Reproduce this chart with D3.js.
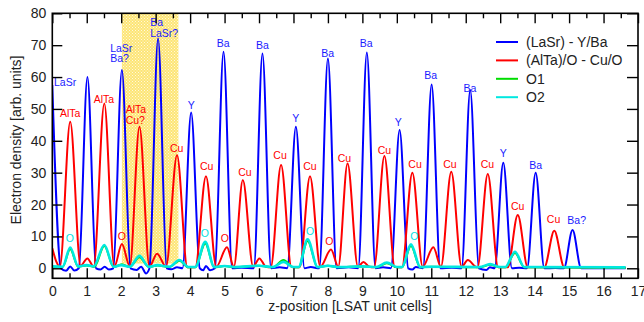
<!DOCTYPE html>
<html>
<head>
<meta charset="utf-8">
<script src="https://cdn.jsdelivr.net/npm/d3@7"></script>
<style>
  body { margin: 0; background: #fff; }
  svg { display: block; font-family: "Liberation Sans", Arial, sans-serif; }
  .tick text { font-size: 14px; fill: #222; }
  .tick line { stroke: #000; stroke-width: 1.4; }
</style>
</head>
<body>
<svg id="chart"></svg>
<script>
// series knots [z, density]
const laSrYBa = [
  [0.00, 57.5], [0.25, 0], [0.40, -0.8], [0.52, 0.6], [0.64, -0.7], [0.77, 0],
  [1.02, 60.0], [1.27, 0], [1.40, -0.4], [1.52, 0.5], [1.64, -0.4], [1.77, 0],
  [2.02, 62.2], [2.27, 0], [2.45, -0.5], [2.58, 0.5], [2.72, -1.6], [2.82, 0],
  [3.07, 72.1], [3.32, 0], [3.45, -0.3], [3.62, 0.3], [3.78, 0],
  [4.03, 48.9], [4.28, 0], [4.38, -0.6], [4.46, 0.7], [4.58, -0.6], [4.72, 0],
  [4.97, 67.9], [5.22, 0], [5.50, 0.2], [5.85, 0],
  [6.10, 67.4], [6.35, 0], [6.60, 0.3], [6.82, 0],
  [7.07, 44.4], [7.32, 0], [7.50, 0.4], [7.75, 0],
  [8.00, 65.8], [8.25, 0], [8.60, 0.3], [8.88, 0],
  [9.13, 67.7], [9.38, 0], [9.60, 0.3], [9.83, 0],
  [10.08, 43.4], [10.33, 0], [10.45, -0.4], [10.55, 0.4], [10.76, 0],
  [11.01, 57.7], [11.26, 0], [11.60, 0.2], [11.88, 0],
  [12.13, 55.9], [12.38, 0], [12.60, -0.5], [12.70, 0.3], [12.84, 0],
  [13.09, 33.1], [13.34, 0], [13.55, 0.2], [13.78, 0],
  [14.03, 30.0], [14.28, 0], [14.60, 0.1], [14.85, 0],
  [15.10, 12.0], [15.35, 0], [16.00, 0], [16.64, 0]
];

const alTaCuO = [
  [0.00, 6.3], [0.12, 2.0], [0.22, 0.5], [0.52, 46.0], [0.82, 0.8],
  [1.02, 3.1], [1.20, 0.5], [1.51, 51.7], [1.80, 0.5],
  [2.02, 7.6], [2.25, 0.6], [2.53, 44.4], [2.82, 0.5],
  [3.04, 4.6], [3.30, 0.5], [3.62, 35.5], [3.92, 0.3],
  [4.15, 0.3], [4.46, 28.9], [4.76, 0.5],
  [5.07, 6.6], [5.27, 0.5], [5.53, 27.7], [5.83, 0.5],
  [6.01, 3.1], [6.20, 0.5], [6.34, 0.3], [6.64, 32.4], [6.94, 0.4],
  [7.18, 0.3], [7.48, 28.9], [7.78, 0.5],
  [8.09, 5.9], [8.30, 0.5], [8.57, 32.9], [8.87, 0.5],
  [9.03, 2.0], [9.20, 0.5], [9.34, 0.3], [9.64, 35.2], [9.94, 0.4],
  [10.15, 0.3], [10.45, 30.0], [10.75, 0.5],
  [11.06, 6.6], [11.28, 0.5], [11.58, 30.3], [11.88, 0.5],
  [12.06, 2.6], [12.30, 0.4], [12.34, 0.3], [12.64, 29.6], [12.94, 0.3],
  [13.22, 0.3], [13.51, 16.7], [13.80, 0.3],
  [14.28, 0.3], [14.57, 11.8], [14.86, 0.3], [15.50, 0.2], [16.64, 0.2]
];

const o1 = [
  [0.00, 0.5], [0.30, 0.4], [0.52, 6.0], [0.75, 0.5], [1.00, 0.9], [1.22, 0.5],
  [1.51, 7.0], [1.78, 0.4], [2.02, 1.3], [2.25, 0.4], [2.53, 3.5], [2.80, 0.4],
  [3.05, 0.9], [3.40, 0.4], [3.69, 2.4], [3.95, 0.3], [4.15, 0.3], [4.44, 7.8],
  [4.70, 0.3], [5.00, 0.7], [5.30, 0.3], [6.00, 0.8], [6.40, 0.3], [6.71, 2.6],
  [7.00, 0.3], [7.15, 0.3], [7.41, 8.6], [7.70, 0.3], [8.00, 0.8], [8.30, 0.3],
  [9.00, 0.6], [9.40, 0.3], [9.71, 1.6], [10.00, 0.3], [10.15, 0.3], [10.41, 7.0],
  [10.68, 0.3], [11.00, 0.5], [12.40, 0.3], [12.71, 1.1], [13.00, 0.3], [13.15, 0.3],
  [13.43, 4.8], [13.70, 0.3], [16.64, 0.2]
];

const o2 = [
  [0.00, 0.6], [0.30, 0.5], [0.52, 6.5], [0.75, 0.6], [1.00, 1.0], [1.20, 0.6],
  [1.51, 7.3], [1.78, 0.5], [2.00, 1.0], [2.25, 0.5], [2.53, 3.9], [2.80, 0.5],
  [3.05, 1.0], [3.40, 0.5], [3.69, 2.6], [3.95, 0.4], [4.15, 0.4], [4.44, 8.3],
  [4.70, 0.4], [5.00, 0.7], [5.30, 0.4], [6.00, 0.8], [6.40, 0.4], [6.71, 2.0],
  [7.00, 0.4], [7.15, 0.4], [7.41, 9.1], [7.70, 0.4], [8.00, 0.8], [8.30, 0.4],
  [9.00, 0.6], [9.40, 0.4], [9.71, 1.8], [10.00, 0.4], [10.15, 0.4], [10.41, 7.5],
  [10.68, 0.4], [11.00, 0.5], [12.40, 0.4], [12.71, 1.3], [13.00, 0.4], [13.15, 0.4],
  [13.43, 5.2], [13.70, 0.4], [16.64, 0.3]
];

const seriesNames = ['(LaSr) - Y/Ba', '(AlTa)/O - Cu/O', 'O1', 'O2'];
const seriesColors = ['#0000ff', '#ff0000', '#00dd00', '#00e8e0'];
const seriesWidths = [2, 2, 2, 2.6];
const seriesData = [laSrYBa, alTaCuO, o1, o2];

// peak annotations: [text, z, density at baseline, anchor]
const blueLabels = [
  ['LaSr', 0.37, 57.3, 'middle'],
  ['LaSr\nBa?', 1.68, 67.9, 'start'],
  ['Ba\nLaSr?', 2.84, 75.9, 'start'],
  ['Y', 4.03, 50.1, 'middle'],
  ['Ba', 4.96, 69.4, 'middle'],
  ['Ba', 6.10, 68.9, 'middle'],
  ['Y', 7.07, 45.9, 'middle'],
  ['Ba', 7.99, 66.3, 'middle'],
  ['Ba', 9.11, 69.4, 'middle'],
  ['Y', 10.04, 44.5, 'middle'],
  ['Ba', 10.98, 59.4, 'middle'],
  ['Ba', 12.12, 55.3, 'middle'],
  ['Y', 13.09, 34.9, 'middle'],
  ['Ba', 14.03, 31.0, 'middle'],
  ['Ba?', 15.22, 14.0, 'middle']
];
const redLabels = [
  ['AlTa', 0.52, 47.5, 'middle'],
  ['AlTa', 1.50, 51.8, 'middle'],
  ['AlTa\nCu?', 2.13, 48.7, 'start'],
  ['Cu', 3.61, 36.5, 'middle'],
  ['Cu', 4.48, 30.9, 'middle'],
  ['Cu', 5.59, 29.1, 'middle'],
  ['Cu', 6.61, 34.4, 'middle'],
  ['Cu', 7.48, 30.7, 'middle'],
  ['Cu', 8.48, 33.3, 'middle'],
  ['Cu', 9.64, 35.9, 'middle'],
  ['Cu', 10.53, 31.5, 'middle'],
  ['Cu', 11.54, 31.5, 'middle'],
  ['Cu', 12.63, 31.5, 'middle'],
  ['Cu', 13.51, 18.4, 'middle'],
  ['Cu', 14.55, 14.2, 'middle'],
  ['O', 2.02, 9.0, 'middle'],
  ['O', 5.01, 8.2, 'middle'],
  ['O', 8.04, 7.2, 'middle']
];
const cyanLabels = [
  ['O', 0.51, 8.4, 'middle'],
  ['O', 4.43, 9.8, 'middle'],
  ['O', 7.48, 10.5, 'middle'],
  ['O', 10.51, 9.0, 'middle']
];

// highlighted region [z0, z1]
const band = [2.02, 3.66];

const xTicks = d3.range(0, 18, 1);
const xMinorTicks = d3.range(0.5, 17, 1);
const yTicks = d3.range(0, 90, 10);

// Set up dimensions
const width = 644;
const height = 322;
const plot = { left: 52.3, right: 638, top: 13.3, bottom: 278.3 };

const svg = d3.select('#chart')
  .attr('width', width)
  .attr('height', height);

// Create scales
const xScale = d3.scaleLinear().domain([0, 17]).range([plot.left, plot.right]);
const yScale = d3.scaleLinear().domain([-3.14, 80]).range([plot.bottom, plot.top]);

const defs = svg.append('defs');

// dotted yellow fill for the band
const pat = defs.append('pattern')
  .attr('id', 'band-fill')
  .attr('patternUnits', 'userSpaceOnUse')
  .attr('width', 3)
  .attr('height', 3);
pat.append('rect').attr('width', 3).attr('height', 3).attr('fill', '#fde576');
pat.append('rect').attr('x', 0).attr('y', 0).attr('width', 1).attr('height', 1).attr('fill', '#fff9dc');
pat.append('rect').attr('x', 1.5).attr('y', 1.5).attr('width', 1).attr('height', 1).attr('fill', '#fff9dc');

defs.append('clipPath')
  .attr('id', 'plot-clip')
  .append('rect')
  .attr('x', plot.left)
  .attr('y', plot.top)
  .attr('width', plot.right - plot.left)
  .attr('height', plot.bottom - plot.top);

// Band
svg.append('rect')
  .attr('x', xScale(band[0]))
  .attr('y', yScale(80))
  .attr('width', xScale(band[1]) - xScale(band[0]))
  .attr('height', yScale(1.5) - yScale(80))
  .attr('fill', 'url(#band-fill)');

// Lines
const line = d3.line()
  .x(d => xScale(d[0]))
  .y(d => yScale(d[1]))
  .curve(d3.curveMonotoneX);

const lines = svg.append('g').attr('clip-path', 'url(#plot-clip)');
seriesData.forEach((s, i) => {
  lines.append('path')
    .datum(s)
    .attr('d', line)
    .attr('fill', 'none')
    .attr('stroke', seriesColors[i])
    .attr('stroke-width', seriesWidths[i])
    .attr('stroke-linejoin', 'round');
});

// Annotations
function addLabels(labels, color) {
  labels.forEach(([txt, zx, zy, anchor]) => {
    const t = svg.append('text')
      .attr('x', xScale(zx))
      .attr('y', yScale(zy))
      .attr('text-anchor', anchor)
      .style('font-size', '10.5px')
      .style('fill', color);
    txt.split('\n').forEach((part, k) => {
      t.append('tspan')
        .attr('x', xScale(zx))
        .attr('dy', k === 0 ? 0 : 10.5)
        .text(part);
    });
  });
}
addLabels(blueLabels, '#1a1aff');
addLabels(redLabels, '#ff0000');
addLabels(cyanLabels, '#00e0e0');

// Axes (ticks point inward)
svg.append('g')
  .attr('transform', `translate(0,${plot.bottom})`)
  .call(d3.axisBottom(xScale).tickValues(xTicks).tickSize(-10).tickPadding(8).tickFormat(d3.format('d')))
  .call(g => g.select('.domain').remove());

svg.append('g')
  .attr('transform', `translate(0,${plot.bottom})`)
  .call(d3.axisBottom(xScale).tickValues(xMinorTicks).tickSize(-5).tickFormat(''))
  .call(g => g.select('.domain').remove());

svg.append('g')
  .attr('transform', `translate(0,${plot.top})`)
  .call(d3.axisTop(xScale).tickValues(xTicks).tickSize(-10).tickFormat(''))
  .call(g => g.select('.domain').remove());

svg.append('g')
  .attr('transform', `translate(0,${plot.top})`)
  .call(d3.axisTop(xScale).tickValues(xMinorTicks).tickSize(-5).tickFormat(''))
  .call(g => g.select('.domain').remove());

svg.append('g')
  .attr('transform', `translate(${plot.left},0)`)
  .call(d3.axisLeft(yScale).tickValues(yTicks).tickSize(-10).tickPadding(6))
  .call(g => g.select('.domain').remove());

svg.append('g')
  .attr('transform', `translate(${plot.right},0)`)
  .call(d3.axisRight(yScale).tickValues(yTicks).tickSize(-11).tickFormat(''))
  .call(g => g.select('.domain').remove());

svg.selectAll('.tick text').style('font-size', '14px');

// Frame
svg.append('rect')
  .attr('x', plot.left)
  .attr('y', plot.top)
  .attr('width', plot.right - plot.left)
  .attr('height', plot.bottom - plot.top)
  .attr('fill', 'none')
  .attr('stroke', '#000')
  .attr('stroke-width', 1.6);

// Axis titles
svg.append('text')
  .attr('x', 350)
  .attr('y', 311)
  .attr('text-anchor', 'middle')
  .style('font-size', '14px')
  .style('fill', '#222')
  .text('z-position [LSAT unit cells]');

svg.append('text')
  .attr('transform', 'rotate(-90)')
  .attr('x', -140)
  .attr('y', 21)
  .attr('text-anchor', 'middle')
  .style('font-size', '14px')
  .style('fill', '#222')
  .text('Electron density [arb. units]');

// Legend
const legend = svg.append('g').attr('transform', 'translate(496,42)');
seriesNames.forEach((name, i) => {
  const row = legend.append('g').attr('transform', `translate(0,${i * 18.4})`);
  row.append('line')
    .attr('x1', 0).attr('x2', 22)
    .attr('stroke', seriesColors[i])
    .attr('stroke-width', 2);
  row.append('text')
    .attr('x', 30)
    .attr('y', 5)
    .style('font-size', '14px')
    .style('fill', '#222')
    .text(name);
});
</script>
</body>
</html>
